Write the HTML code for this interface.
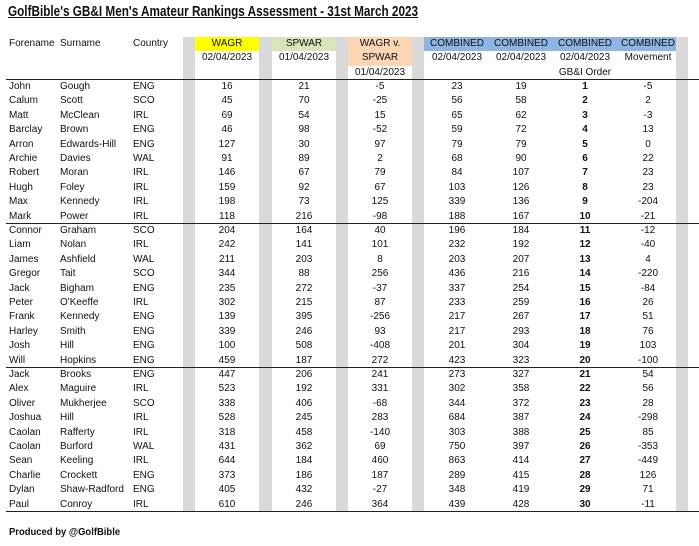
<!DOCTYPE html>
<html><head><meta charset="utf-8"><style>
*{margin:0;padding:0;box-sizing:border-box}
body{width:699px;height:546px;background:#fff;font-family:"Liberation Sans",sans-serif;font-size:10px;color:#111;position:relative;overflow:hidden}
.a{position:absolute}
.t{position:absolute;white-space:nowrap;line-height:14.4px;height:14.4px}
.c{text-align:center}
.g{position:absolute;background:#d9d9d9;top:37px;height:474px}
.hl{position:absolute;left:6px;width:693px;height:1.3px;background:#222}
</style></head><body>
<div class="a" style="left:8px;top:4px;font-size:14.5px;font-weight:bold;text-decoration:underline;white-space:nowrap;transform:scaleX(0.81);transform-origin:0 0">GolfBible's GB&amp;I Men's Amateur Rankings Assessment - 31st March 2023</div>
<div class="g" style="left:183px;width:12px"></div>
<div class="g" style="left:259px;width:13px"></div>
<div class="g" style="left:336px;width:12px"></div>
<div class="g" style="left:412px;width:12px"></div>
<div class="g" style="left:676px;width:12px"></div>
<div class="a" style="left:195px;top:37px;width:64px;height:14px;background:#ffff00"></div>
<div class="a" style="left:272px;top:37px;width:64px;height:14px;background:#d8e4bc"></div>
<div class="a" style="left:348px;top:37px;width:64px;height:29px;background:#fcd5b4"></div>
<div class="a" style="left:424px;top:37px;width:252px;height:14px;background:#8db4e2"></div>
<div id="h"></div>
<div class="hl" style="top:79px"></div>
<div class="hl" style="top:223px"></div>
<div class="hl" style="top:367px"></div>
<div class="hl" style="top:511px"></div>
<div class="a" style="left:9px;top:526px;font-weight:bold;font-size:10.5px;transform:scaleX(0.9);transform-origin:0 0">Produced by @GolfBible</div>
<div id="r"></div>
<script>
var H=[[9,'Forename',0,0],[60,'Surname',0,0],[133,'Country',0,0],[227,'WAGR',0,1],[227,'02/04/2023',1,1],[304,'SPWAR',0,1],[304,'01/04/2023',1,1],[380,'WAGR v.',0,1],[380,'SPWAR',1,1],[380,'01/04/2023',2,1],[457,'COMBINED',0,1],[521,'COMBINED',0,1],[585,'COMBINED',0,1],[648,'COMBINED',0,1],[457,'02/04/2023',1,1],[521,'02/04/2023',1,1],[585,'02/04/2023',1,1],[648,'Movement',1,1],[585,'GB&I Order',2,1]];
var s='';
H.forEach(function(h){var top=37+h[2]*14.4;
if(h[3])s+='<div class="t c" style="left:'+(h[0]-40)+'px;width:80px;top:'+top+'px">'+h[1].replace('&','&amp;')+'</div>';
else s+='<div class="t" style="left:'+h[0]+'px;top:'+top+'px">'+h[1]+'</div>';});
document.getElementById('h').innerHTML=s;
var D=`John Gough ENG 16 21 -5 23 19 1 -5
Calum Scott SCO 45 70 -25 56 58 2 2
Matt McClean IRL 69 54 15 65 62 3 -3
Barclay Brown ENG 46 98 -52 59 72 4 13
Arron Edwards-Hill ENG 127 30 97 79 79 5 0
Archie Davies WAL 91 89 2 68 90 6 22
Robert Moran IRL 146 67 79 84 107 7 23
Hugh Foley IRL 159 92 67 103 126 8 23
Max Kennedy IRL 198 73 125 339 136 9 -204
Mark Power IRL 118 216 -98 188 167 10 -21
Connor Graham SCO 204 164 40 196 184 11 -12
Liam Nolan IRL 242 141 101 232 192 12 -40
James Ashfield WAL 211 203 8 203 207 13 4
Gregor Tait SCO 344 88 256 436 216 14 -220
Jack Bigham ENG 235 272 -37 337 254 15 -84
Peter O'Keeffe IRL 302 215 87 233 259 16 26
Frank Kennedy ENG 139 395 -256 217 267 17 51
Harley Smith ENG 339 246 93 217 293 18 76
Josh Hill ENG 100 508 -408 201 304 19 103
Will Hopkins ENG 459 187 272 423 323 20 -100
Jack Brooks ENG 447 206 241 273 327 21 54
Alex Maguire IRL 523 192 331 302 358 22 56
Oliver Mukherjee SCO 338 406 -68 344 372 23 28
Joshua Hill IRL 528 245 283 684 387 24 -298
Caolan Rafferty IRL 318 458 -140 303 388 25 85
Caolan Burford WAL 431 362 69 750 397 26 -353
Sean Keeling IRL 644 184 460 863 414 27 -449
Charlie Crockett ENG 373 186 187 289 415 28 126
Dylan Shaw-Radford ENG 405 432 -27 348 419 29 71
Paul Conroy IRL 610 246 364 439 428 30 -11`.split('\n');
var X=[227,304,380,457,521,585,648];s='';
D.forEach(function(l,i){var p=l.split(' ');var top=80+i*14.4;
s+='<div class="t" style="left:9px;top:'+top+'px">'+p[0]+'</div>';
s+='<div class="t" style="left:60px;top:'+top+'px">'+p[1]+'</div>';
s+='<div class="t" style="left:133px;top:'+top+'px">'+p[2]+'</div>';
for(var k=0;k<7;k++)s+='<div class="t c" style="left:'+(X[k]-30)+'px;width:60px;top:'+top+'px;'+(k==5?'font-weight:bold':'')+'">'+p[3+k]+'</div>';});
document.getElementById('r').innerHTML=s;
</script>
</body></html>
